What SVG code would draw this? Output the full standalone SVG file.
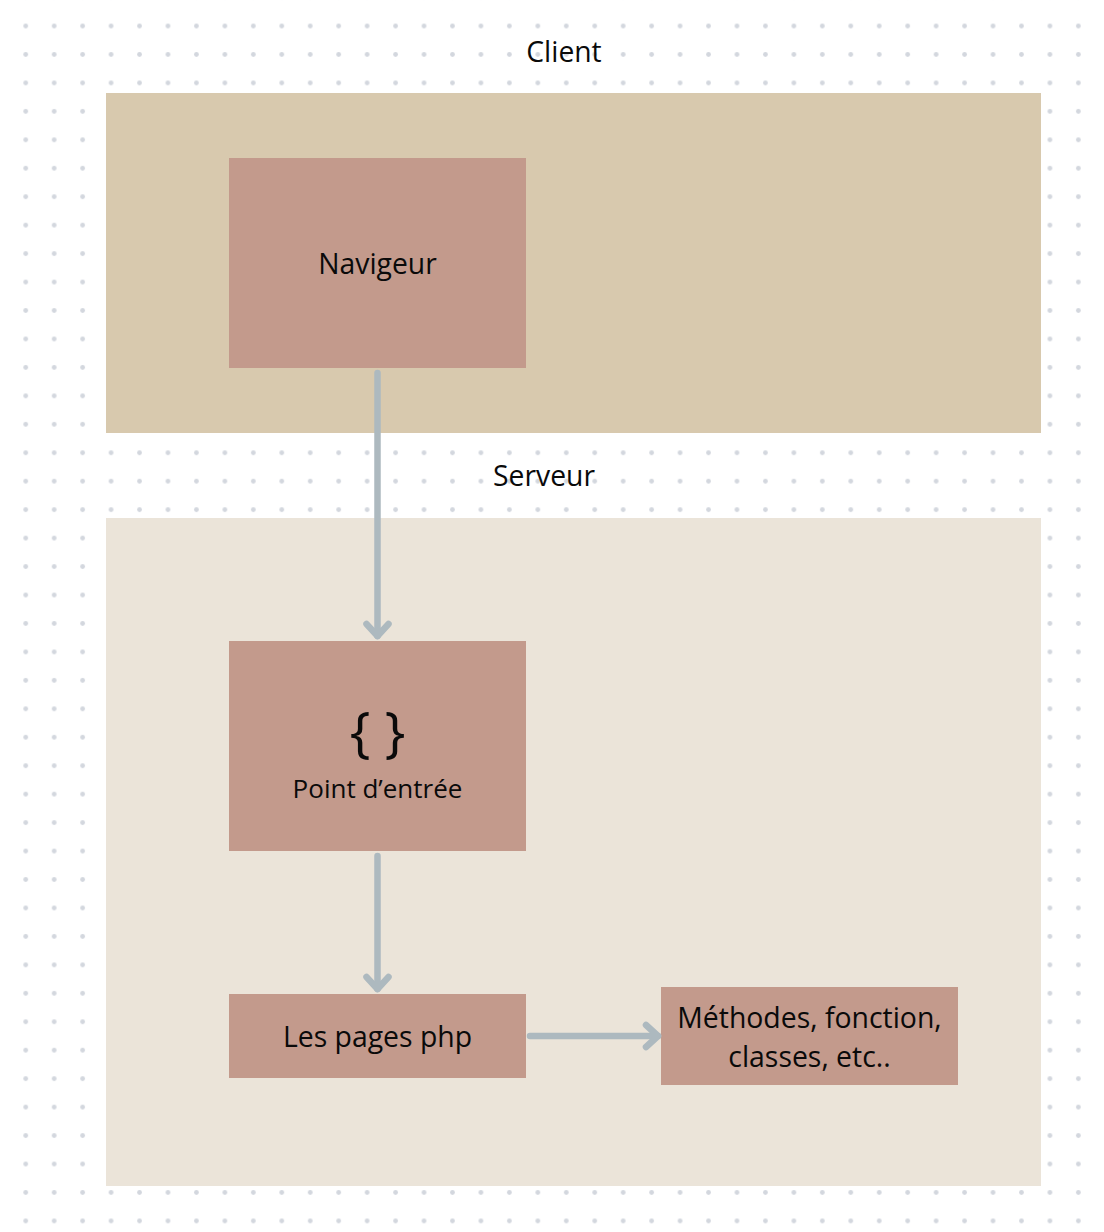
<svg xmlns="http://www.w3.org/2000/svg" width="1104" height="1232" viewBox="0 0 1104 1232">
<defs>
<pattern id="dots" x="11.5" y="11.8" width="28.45" height="28.45" patternUnits="userSpaceOnUse">
<circle cx="14.225" cy="14.225" r="2.4" fill="#d3d7de"/>
</pattern>
<style>
.lbl{font-family:"Open Sans","Liberation Sans",sans-serif;fill:#0a0a0a;text-anchor:middle}
.box{fill:#c39a8c}
.conn{stroke:#adb9bf;stroke-width:6.5;stroke-linecap:round;fill:none}
.head{stroke:#adb9bf;stroke-width:6.5;stroke-linecap:round;stroke-linejoin:round;fill:none}
</style>
</defs>
<rect width="1104" height="1232" fill="#ffffff"/>
<rect width="1104" height="1232" fill="url(#dots)"/>
<g id="client-zone">
<rect x="106" y="93" width="935" height="340" fill="#d8c9ae"/>
<text class="lbl" x="564" y="62" font-size="28.3">Client</text>
</g>
<g id="server-zone">
<rect x="106" y="518" width="935" height="668" fill="#ebe4d9"/>
<text class="lbl" x="544" y="486" font-size="28.3">Serveur</text>
</g>
<g id="navigeur">
<rect class="box" x="229" y="158" width="297" height="210"/>
<text class="lbl" x="377.5" y="274" font-size="28.3">Navigeur</text>
</g>
<g id="point-entree">
<rect class="box" x="229" y="641" width="297" height="210"/>
<text class="lbl" x="377.5" y="751" font-size="55">{ }</text>
<text class="lbl" x="377.5" y="798" font-size="26">Point d’entrée</text>
</g>
<g id="pages-php">
<rect class="box" x="229" y="994" width="297" height="84"/>
<text class="lbl" x="377.5" y="1047" font-size="28.4">Les pages php</text>
</g>
<g id="methodes">
<rect class="box" x="661" y="987" width="297" height="98"/>
<text class="lbl" x="809.5" y="1028" font-size="28.4">Méthodes, fonction,</text>
<text class="lbl" x="809.5" y="1067" font-size="28.4">classes, etc..</text>
</g>
<g id="connectors">
<path class="conn" d="M377.5 373 V636"/>
<path class="head" d="M366.5 624 L377.5 636 L388.5 624"/>
<path class="conn" d="M377.5 856 V989"/>
<path class="head" d="M366.5 977 L377.5 989 L388.5 977"/>
<path class="conn" d="M530 1036 H658"/>
<path class="head" d="M646 1025 L658 1036 L646 1047"/>
</g>
</svg>
